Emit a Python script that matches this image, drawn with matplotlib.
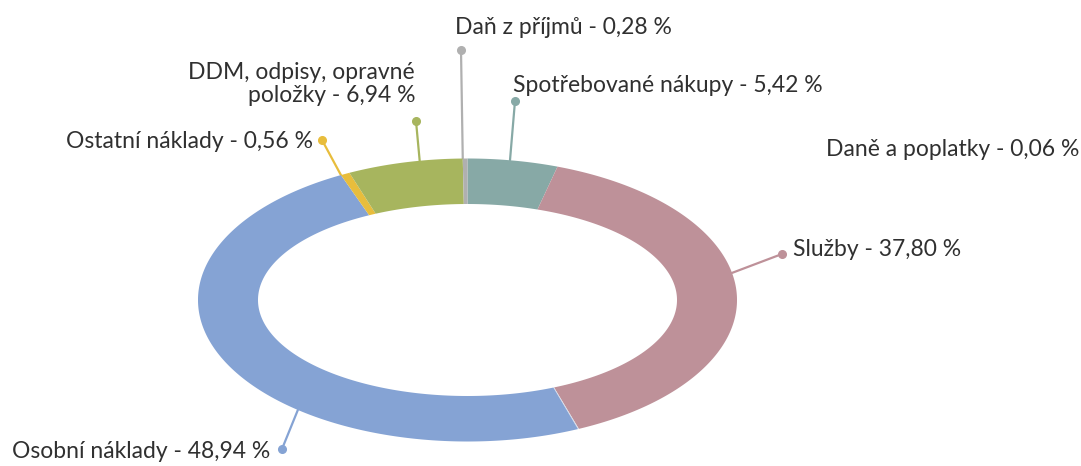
import numpy as np
import matplotlib
matplotlib.use("Agg")
import matplotlib.pyplot as plt
from matplotlib.patches import Polygon

# Cost structure (share of total costs, %), clockwise from 12 o'clock
categories = [
    "Spotřebované nákupy",
    "Služby",
    "Daně a poplatky",
    "Osobní náklady",
    "Ostatní náklady",
    "DDM, odpisy, opravné\npoložky",
    "Daň z příjmů",
]
shares = [5.42, 37.80, 0.06, 48.94, 0.56, 6.94, 0.28]
colors = ["#87A9A6", "#BE9199", "#D6DCE8", "#85A3D4", "#E8BD3C", "#A7B55E", "#B0B0B0"]

# Label layout in pixel space: (x, y, ha, dot_x, dot_y) ; dot None -> no leader
label_layout = {
    "Spotřebované nákupy": (513, 85, "left", 515, 101),
    "Služby": (793, 250, "left", 782, 254),
    "Daně a poplatky": (1079, 150, "right", None, None),
    "Osobní náklady": (12, 452, "left", 282, 449),
    "Ostatní náklady": (313, 142, "right", 322, 140),
    "DDM, odpisy, opravné\npoložky": (415, 84, "right", 416, 121),
    "Daň z příjmů": (455, 28, "left", 461, 50),
}

W, H = 1081, 466
fig = plt.figure(figsize=(W / 100, H / 100), dpi=100)
ax = fig.add_axes([0, 0, 1, 1])
ax.set_xlim(0, W)
ax.set_ylim(H, 0)
ax.axis("off")

# Elliptical ring geometry
cx, cy = 467.5, 300.0
a_out, b_out = 269.5, 141.5
a_in, b_in = 209.5, 96.0


def ring_point(t, a, b):
    return cx + a * np.sin(t), cy - b * np.cos(t)


fracs = np.array(shares) / np.sum(shares)
edges = np.concatenate([[0], np.cumsum(fracs)]) * 2 * np.pi

text_color = "#303030"
plt.rcParams["font.family"] = ["Lato", "DejaVu Sans"]

for i, (name, val, col) in enumerate(zip(categories, shares, colors)):
    t0, t1 = edges[i], edges[i + 1]
    ts = np.linspace(t0, t1, max(4, int(400 * (t1 - t0))))
    xo, yo = ring_point(ts, a_out, b_out)
    xi, yi = ring_point(ts[::-1], a_in, b_in)
    poly = Polygon(np.column_stack([np.r_[xo, xi], np.r_[yo, yi]]),
                   closed=True, facecolor=col, edgecolor="none", zorder=2)
    ax.add_patch(poly)

    lx, ly, ha, dx, dy = label_layout[name]
    label = f"{name} - {val:.2f} %".replace(".", ",")
    ax.text(lx, ly, label, ha=ha, va="center", fontsize=16.5,
            color=text_color, fontweight="normal", linespacing=1.15, zorder=4)

    if dx is not None:
        # leader anchor: point of the slice's outer arc closest to the dot
        tt = np.linspace(t0, t1, 500)
        px, py = ring_point(tt, a_out, b_out)
        k = np.argmin((px - dx) ** 2 + (py - dy) ** 2)
        ax.plot([px[k], dx], [py[k], dy], color=col, lw=1.6, zorder=1,
                solid_capstyle="round")
        ax.plot(dx, dy, "o", color=col, markersize=5.5, zorder=3)

fig.savefig("out.png", dpi=100)
